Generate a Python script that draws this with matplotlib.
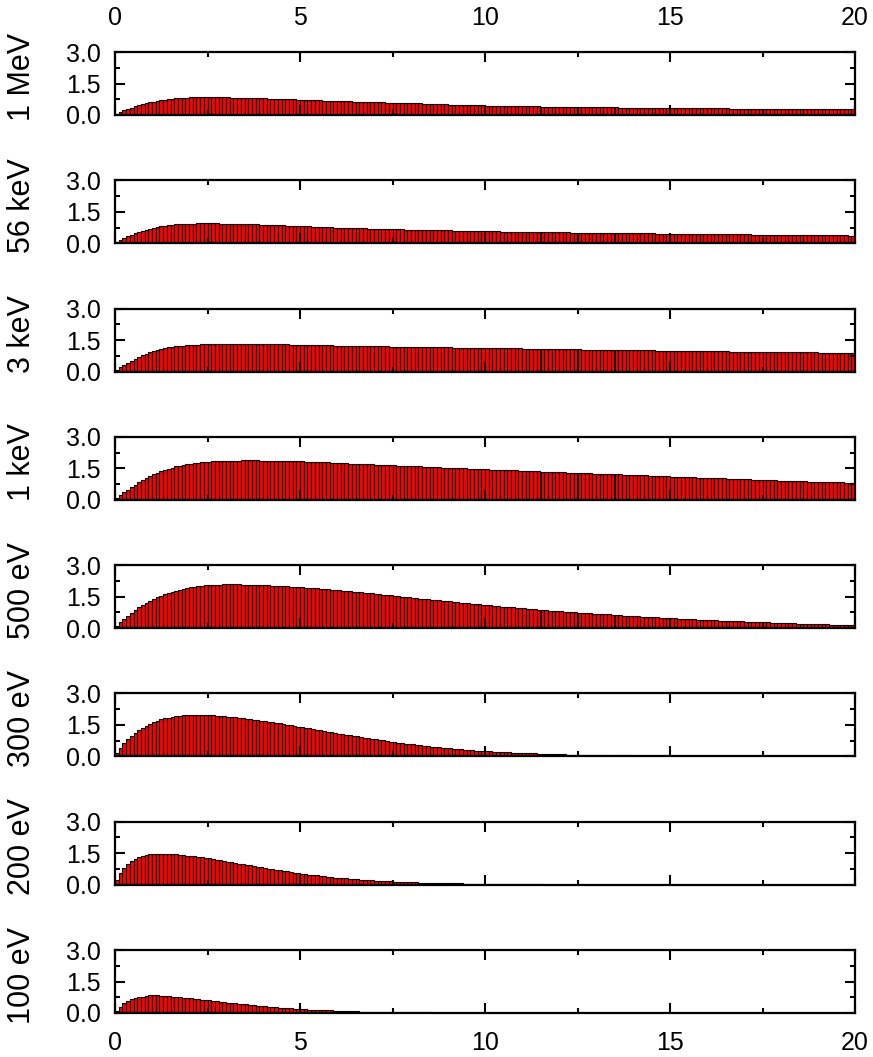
import numpy as np
import matplotlib.pyplot as plt

plt.rcParams['font.family'] = ['Liberation Sans', 'DejaVu Sans']

# Labels of the eight panels (top to bottom)
labels = ['1 MeV', '56 keV', '3 keV', '1 keV', '500 eV', '300 eV', '200 eV', '100 eV']

# Bar heights, one value per 0.1-wide bin from 0 to 20
e_1mev = [
    0.05, 0.14, 0.22, 0.29, 0.35, 0.41, 0.46, 0.51, 0.56, 0.60,
    0.64, 0.67, 0.70, 0.73, 0.75, 0.77, 0.79, 0.80, 0.82, 0.83,
    0.84, 0.84, 0.85, 0.85, 0.85, 0.85, 0.85, 0.85, 0.84, 0.84,
    0.84, 0.83, 0.83, 0.82, 0.82, 0.81, 0.81, 0.80, 0.80, 0.79,
    0.79, 0.78, 0.78, 0.77, 0.76, 0.76, 0.75, 0.75, 0.74, 0.73,
    0.73, 0.72, 0.72, 0.71, 0.70, 0.70, 0.69, 0.69, 0.68, 0.67,
    0.67, 0.66, 0.66, 0.65, 0.64, 0.64, 0.63, 0.63, 0.62, 0.61,
    0.61, 0.60, 0.60, 0.59, 0.59, 0.58, 0.58, 0.57, 0.57, 0.56,
    0.56, 0.55, 0.55, 0.54, 0.53, 0.53, 0.52, 0.52, 0.51, 0.51,
    0.50, 0.50, 0.49, 0.49, 0.48, 0.48, 0.47, 0.47, 0.46, 0.46,
    0.45, 0.45, 0.45, 0.44, 0.44, 0.44, 0.43, 0.43, 0.43, 0.42,
    0.42, 0.42, 0.41, 0.41, 0.41, 0.40, 0.40, 0.40, 0.40, 0.39,
    0.39, 0.39, 0.39, 0.38, 0.38, 0.38, 0.38, 0.37, 0.37, 0.37,
    0.37, 0.36, 0.36, 0.36, 0.36, 0.36, 0.35, 0.35, 0.35, 0.35,
    0.35, 0.34, 0.34, 0.34, 0.34, 0.34, 0.33, 0.33, 0.33, 0.33,
    0.33, 0.33, 0.32, 0.32, 0.32, 0.32, 0.32, 0.32, 0.32, 0.31,
    0.31, 0.31, 0.31, 0.31, 0.31, 0.31, 0.30, 0.30, 0.30, 0.30,
    0.30, 0.30, 0.30, 0.30, 0.30, 0.29, 0.29, 0.29, 0.29, 0.29,
    0.29, 0.29, 0.29, 0.29, 0.28, 0.28, 0.28, 0.28, 0.28, 0.28,
    0.28, 0.28, 0.28, 0.28, 0.28, 0.27, 0.27, 0.27, 0.27, 0.27,
]
e_56kev = [
    0.06, 0.16, 0.25, 0.33, 0.40, 0.47, 0.53, 0.59, 0.64, 0.69,
    0.73, 0.77, 0.80, 0.83, 0.86, 0.88, 0.90, 0.91, 0.92, 0.93,
    0.94, 0.94, 0.95, 0.95, 0.95, 0.95, 0.95, 0.95, 0.94, 0.94,
    0.94, 0.93, 0.93, 0.92, 0.92, 0.91, 0.91, 0.90, 0.90, 0.89,
    0.88, 0.88, 0.87, 0.86, 0.86, 0.85, 0.84, 0.84, 0.83, 0.82,
    0.81, 0.81, 0.80, 0.79, 0.79, 0.78, 0.77, 0.77, 0.76, 0.75,
    0.75, 0.74, 0.74, 0.73, 0.72, 0.72, 0.71, 0.71, 0.70, 0.70,
    0.69, 0.69, 0.68, 0.68, 0.67, 0.67, 0.66, 0.66, 0.65, 0.65,
    0.64, 0.64, 0.64, 0.63, 0.63, 0.62, 0.62, 0.62, 0.61, 0.61,
    0.61, 0.60, 0.60, 0.60, 0.59, 0.59, 0.59, 0.58, 0.58, 0.58,
    0.57, 0.57, 0.57, 0.57, 0.56, 0.56, 0.56, 0.55, 0.55, 0.55,
    0.55, 0.54, 0.54, 0.54, 0.54, 0.53, 0.53, 0.53, 0.53, 0.52,
    0.52, 0.52, 0.52, 0.51, 0.51, 0.51, 0.51, 0.50, 0.50, 0.50,
    0.50, 0.50, 0.49, 0.49, 0.49, 0.49, 0.48, 0.48, 0.48, 0.48,
    0.48, 0.47, 0.47, 0.47, 0.47, 0.47, 0.46, 0.46, 0.46, 0.46,
    0.46, 0.45, 0.45, 0.45, 0.45, 0.45, 0.44, 0.44, 0.44, 0.44,
    0.44, 0.43, 0.43, 0.43, 0.43, 0.43, 0.42, 0.42, 0.42, 0.42,
    0.42, 0.42, 0.41, 0.41, 0.41, 0.41, 0.41, 0.41, 0.40, 0.40,
    0.40, 0.40, 0.40, 0.40, 0.39, 0.39, 0.39, 0.39, 0.39, 0.39,
    0.39, 0.38, 0.38, 0.38, 0.38, 0.38, 0.38, 0.38, 0.37, 0.37,
]
e_3kev = [
    0.08, 0.20, 0.31, 0.41, 0.51, 0.60, 0.69, 0.77, 0.85, 0.92,
    0.98, 1.03, 1.08, 1.12, 1.15, 1.18, 1.20, 1.22, 1.24, 1.25,
    1.26, 1.27, 1.28, 1.29, 1.30, 1.30, 1.31, 1.31, 1.32, 1.32,
    1.32, 1.32, 1.32, 1.32, 1.32, 1.32, 1.32, 1.31, 1.31, 1.31,
    1.31, 1.30, 1.30, 1.30, 1.29, 1.29, 1.29, 1.28, 1.28, 1.28,
    1.27, 1.27, 1.27, 1.26, 1.26, 1.26, 1.25, 1.25, 1.25, 1.24,
    1.24, 1.24, 1.23, 1.23, 1.23, 1.22, 1.22, 1.22, 1.21, 1.21,
    1.21, 1.20, 1.20, 1.20, 1.19, 1.19, 1.19, 1.19, 1.18, 1.18,
    1.18, 1.17, 1.17, 1.17, 1.16, 1.16, 1.16, 1.16, 1.15, 1.15,
    1.15, 1.14, 1.14, 1.14, 1.14, 1.13, 1.13, 1.13, 1.12, 1.12,
    1.12, 1.12, 1.11, 1.11, 1.11, 1.11, 1.10, 1.10, 1.10, 1.10,
    1.09, 1.09, 1.09, 1.09, 1.08, 1.08, 1.08, 1.08, 1.07, 1.07,
    1.07, 1.07, 1.06, 1.06, 1.06, 1.06, 1.05, 1.05, 1.05, 1.05,
    1.04, 1.04, 1.04, 1.04, 1.03, 1.03, 1.03, 1.03, 1.02, 1.02,
    1.02, 1.02, 1.01, 1.01, 1.01, 1.01, 1.00, 1.00, 1.00, 1.00,
    0.99, 0.99, 0.99, 0.99, 0.98, 0.98, 0.98, 0.98, 0.97, 0.97,
    0.97, 0.97, 0.96, 0.96, 0.96, 0.96, 0.95, 0.95, 0.95, 0.95,
    0.95, 0.94, 0.94, 0.94, 0.94, 0.93, 0.93, 0.93, 0.93, 0.93,
    0.92, 0.92, 0.92, 0.92, 0.92, 0.91, 0.91, 0.91, 0.91, 0.91,
    0.90, 0.90, 0.90, 0.90, 0.90, 0.89, 0.89, 0.89, 0.89, 0.89,
]
e_1kev = [
    0.08, 0.22, 0.36, 0.49, 0.61, 0.73, 0.84, 0.94, 1.04, 1.13,
    1.21, 1.29, 1.36, 1.43, 1.49, 1.54, 1.59, 1.63, 1.67, 1.70,
    1.73, 1.75, 1.77, 1.79, 1.81, 1.82, 1.83, 1.84, 1.85, 1.86,
    1.86, 1.87, 1.87, 1.87, 1.88, 1.88, 1.88, 1.88, 1.88, 1.87,
    1.87, 1.87, 1.86, 1.86, 1.86, 1.85, 1.85, 1.84, 1.84, 1.83,
    1.83, 1.82, 1.81, 1.81, 1.80, 1.79, 1.79, 1.78, 1.77, 1.76,
    1.76, 1.75, 1.74, 1.73, 1.73, 1.72, 1.71, 1.70, 1.70, 1.69,
    1.68, 1.67, 1.66, 1.66, 1.65, 1.64, 1.63, 1.63, 1.62, 1.61,
    1.60, 1.60, 1.59, 1.58, 1.57, 1.56, 1.56, 1.55, 1.54, 1.53,
    1.53, 1.52, 1.51, 1.50, 1.50, 1.49, 1.48, 1.47, 1.47, 1.46,
    1.45, 1.44, 1.44, 1.43, 1.42, 1.42, 1.41, 1.40, 1.40, 1.39,
    1.38, 1.38, 1.37, 1.36, 1.36, 1.35, 1.34, 1.34, 1.33, 1.32,
    1.32, 1.31, 1.30, 1.30, 1.29, 1.28, 1.27, 1.27, 1.26, 1.25,
    1.25, 1.24, 1.23, 1.23, 1.22, 1.21, 1.21, 1.20, 1.19, 1.18,
    1.18, 1.17, 1.16, 1.16, 1.15, 1.14, 1.14, 1.13, 1.12, 1.12,
    1.11, 1.10, 1.10, 1.09, 1.08, 1.08, 1.07, 1.06, 1.06, 1.05,
    1.04, 1.04, 1.03, 1.02, 1.02, 1.01, 1.00, 1.00, 0.99, 0.98,
    0.98, 0.97, 0.96, 0.96, 0.95, 0.95, 0.94, 0.93, 0.93, 0.92,
    0.91, 0.91, 0.90, 0.90, 0.89, 0.88, 0.88, 0.87, 0.87, 0.86,
    0.86, 0.85, 0.85, 0.84, 0.84, 0.83, 0.83, 0.82, 0.82, 0.81,
]
e_500ev = [
    0.10, 0.28, 0.44, 0.60, 0.74, 0.87, 0.99, 1.10, 1.21, 1.30,
    1.39, 1.47, 1.55, 1.62, 1.68, 1.74, 1.79, 1.84, 1.88, 1.92,
    1.95, 1.98, 2.00, 2.02, 2.04, 2.05, 2.06, 2.07, 2.07, 2.08,
    2.08, 2.08, 2.08, 2.08, 2.07, 2.07, 2.07, 2.06, 2.06, 2.05,
    2.04, 2.04, 2.03, 2.02, 2.01, 2.00, 1.99, 1.98, 1.97, 1.96,
    1.94, 1.93, 1.92, 1.90, 1.89, 1.88, 1.86, 1.85, 1.83, 1.82,
    1.80, 1.78, 1.77, 1.75, 1.73, 1.72, 1.70, 1.68, 1.66, 1.65,
    1.63, 1.61, 1.59, 1.57, 1.56, 1.54, 1.52, 1.50, 1.48, 1.46,
    1.45, 1.43, 1.41, 1.39, 1.37, 1.36, 1.34, 1.32, 1.30, 1.28,
    1.27, 1.25, 1.23, 1.21, 1.20, 1.18, 1.16, 1.15, 1.13, 1.11,
    1.10, 1.08, 1.06, 1.05, 1.03, 1.02, 1.00, 0.99, 0.97, 0.96,
    0.94, 0.93, 0.91, 0.90, 0.88, 0.87, 0.86, 0.84, 0.83, 0.82,
    0.80, 0.79, 0.78, 0.76, 0.75, 0.74, 0.73, 0.71, 0.70, 0.69,
    0.68, 0.67, 0.66, 0.65, 0.64, 0.63, 0.61, 0.60, 0.59, 0.58,
    0.57, 0.56, 0.55, 0.54, 0.53, 0.52, 0.51, 0.50, 0.49, 0.48,
    0.47, 0.46, 0.45, 0.45, 0.44, 0.43, 0.42, 0.41, 0.40, 0.39,
    0.39, 0.38, 0.37, 0.36, 0.35, 0.35, 0.34, 0.33, 0.32, 0.32,
    0.31, 0.30, 0.30, 0.29, 0.28, 0.28, 0.27, 0.26, 0.26, 0.25,
    0.24, 0.24, 0.23, 0.23, 0.22, 0.21, 0.21, 0.20, 0.20, 0.19,
    0.19, 0.18, 0.18, 0.17, 0.17, 0.16, 0.16, 0.15, 0.15, 0.14,
]
e_300ev = [
    0.15, 0.40, 0.62, 0.81, 0.98, 1.12, 1.25, 1.36, 1.46, 1.55,
    1.63, 1.70, 1.76, 1.81, 1.85, 1.88, 1.91, 1.93, 1.95, 1.96,
    1.97, 1.97, 1.97, 1.97, 1.97, 1.96, 1.95, 1.94, 1.93, 1.92,
    1.90, 1.88, 1.86, 1.84, 1.82, 1.80, 1.78, 1.75, 1.73, 1.70,
    1.68, 1.65, 1.62, 1.59, 1.57, 1.54, 1.51, 1.48, 1.45, 1.42,
    1.39, 1.36, 1.33, 1.30, 1.27, 1.24, 1.21, 1.18, 1.15, 1.12,
    1.09, 1.06, 1.03, 1.00, 0.98, 0.95, 0.92, 0.89, 0.86, 0.84,
    0.81, 0.78, 0.76, 0.73, 0.71, 0.68, 0.66, 0.63, 0.61, 0.59,
    0.57, 0.55, 0.53, 0.51, 0.49, 0.47, 0.45, 0.43, 0.41, 0.40,
    0.38, 0.37, 0.35, 0.34, 0.32, 0.31, 0.30, 0.28, 0.27, 0.26,
    0.25, 0.24, 0.23, 0.22, 0.21, 0.20, 0.19, 0.18, 0.17, 0.17,
    0.16, 0.15, 0.15, 0.14, 0.13, 0.13, 0.12, 0.12, 0.11, 0.11,
    0.10, 0.10, 0.09, 0.09, 0.09, 0.08, 0.08, 0.08, 0.07, 0.07,
    0.07, 0.06, 0.06, 0.06, 0.06, 0.05, 0.05, 0.05, 0.05, 0.05,
    0.04, 0.04, 0.04, 0.04, 0.04, 0.04, 0.03, 0.03, 0.03, 0.03,
    0.03, 0.03, 0.03, 0.03, 0.02, 0.02, 0.02, 0.02, 0.02, 0.02,
    0.02, 0.02, 0.02, 0.02, 0.02, 0.01, 0.01, 0.01, 0.01, 0.01,
    0.01, 0.01, 0.01, 0.01, 0.01, 0.01, 0.01, 0.01, 0.01, 0.01,
    0.01, 0.01, 0.01, 0.01, 0.01, 0.01, 0.01, 0.01, 0.01, 0.00,
    0.00, 0.00, 0.00, 0.00, 0.00, 0.00, 0.00, 0.00, 0.00, 0.00,
]
e_200ev = [
    0.22, 0.55, 0.80, 0.99, 1.13, 1.24, 1.32, 1.38, 1.42, 1.45,
    1.47, 1.48, 1.48, 1.48, 1.47, 1.46, 1.45, 1.43, 1.41, 1.39,
    1.37, 1.35, 1.32, 1.30, 1.27, 1.25, 1.22, 1.19, 1.16, 1.13,
    1.10, 1.07, 1.04, 1.01, 0.98, 0.95, 0.92, 0.89, 0.86, 0.83,
    0.80, 0.77, 0.74, 0.71, 0.68, 0.65, 0.63, 0.60, 0.57, 0.55,
    0.52, 0.50, 0.48, 0.46, 0.44, 0.42, 0.40, 0.38, 0.36, 0.34,
    0.33, 0.31, 0.30, 0.28, 0.27, 0.25, 0.24, 0.23, 0.22, 0.21,
    0.20, 0.19, 0.18, 0.17, 0.16, 0.15, 0.14, 0.14, 0.13, 0.12,
    0.12, 0.11, 0.10, 0.10, 0.09, 0.09, 0.08, 0.08, 0.08, 0.07,
    0.07, 0.06, 0.06, 0.06, 0.05, 0.05, 0.05, 0.05, 0.04, 0.04,
    0.04, 0.04, 0.03, 0.03, 0.03, 0.03, 0.03, 0.03, 0.02, 0.02,
    0.02, 0.02, 0.02, 0.02, 0.02, 0.02, 0.01, 0.01, 0.01, 0.01,
    0.01, 0.01, 0.01, 0.01, 0.01, 0.01, 0.01, 0.01, 0.01, 0.01,
    0.01, 0.01, 0.01, 0.01, 0.01, 0.00, 0.00, 0.00, 0.00, 0.00,
] + [0.0] * 60
e_100ev = [
    0.10, 0.30, 0.46, 0.58, 0.66, 0.72, 0.76, 0.77, 0.80, 0.86,
    0.87, 0.86, 0.79, 0.82, 0.81, 0.76, 0.77, 0.75, 0.71, 0.72,
    0.70, 0.66, 0.67, 0.63, 0.61, 0.60, 0.57, 0.55, 0.53, 0.52,
    0.49, 0.47, 0.46, 0.44, 0.42, 0.41, 0.38, 0.37, 0.35, 0.34,
    0.32, 0.30, 0.29, 0.27, 0.26, 0.24, 0.23, 0.22, 0.20, 0.19,
    0.18, 0.17, 0.16, 0.16, 0.15, 0.14, 0.13, 0.12, 0.12, 0.11,
    0.10, 0.10, 0.09, 0.09, 0.08, 0.08, 0.07, 0.07, 0.07, 0.06,
    0.06, 0.06, 0.05, 0.05, 0.05, 0.04, 0.04, 0.04, 0.04, 0.03,
    0.03, 0.03, 0.03, 0.03, 0.03, 0.02, 0.02, 0.02, 0.02, 0.02,
    0.02, 0.02, 0.02, 0.01, 0.01, 0.01, 0.01, 0.01, 0.01, 0.01,
    0.01, 0.01, 0.01, 0.01, 0.01, 0.01, 0.01, 0.01, 0.01, 0.01,
    0.01, 0.01, 0.01, 0.01, 0.01, 0.00, 0.00, 0.00, 0.00, 0.00,
] + [0.0] * 80

series = [e_1mev, e_56kev, e_3kev, e_1kev, e_500ev, e_300ev, e_200ev, e_100ev]
bin_width = 0.1
left_edges = np.arange(200) * bin_width

W, H = 873, 1057
fig = plt.figure(figsize=(W / 100, H / 100), dpi=100)

left_px, right_px = 115, 855
top0, height_px = 52, 63
step = (1013 - height_px - top0) / 7.0

for i, (lab, vals) in enumerate(zip(labels, series)):
    top = top0 + i * step
    rect = [left_px / W, 1 - (top + height_px) / H,
            (right_px - left_px) / W, height_px / H]
    ax = fig.add_axes(rect)
    ax.bar(left_edges, vals, width=bin_width, align='edge',
           color='#ff0000', edgecolor='black', linewidth=0.8)
    ax.set_xlim(0, 20)
    ax.set_ylim(0, 3.0)
    ax.set_xticks([0, 5, 10, 15, 20])
    ax.set_xticks([2.5, 7.5, 12.5, 17.5], minor=True)
    ax.set_yticks([0.0, 1.5, 3.0])
    ax.set_yticklabels(['0.0', '1.5', '3.0'])
    ax.set_yticks([0.75, 2.25], minor=True)
    ax.tick_params(which='both', direction='in', top=True, right=True,
                   width=1.5, labelsize=18)
    ax.tick_params(which='major', length=7)
    ax.tick_params(which='minor', length=3.5)
    ax.tick_params(axis='y', pad=10)
    for s in ax.spines.values():
        s.set_linewidth(1.6)
    if i == 0:
        ax.tick_params(axis='x', labeltop=True, labelbottom=False, pad=16)
    elif i == len(labels) - 1:
        ax.tick_params(axis='x', labeltop=False, labelbottom=True, pad=13)
    else:
        ax.tick_params(axis='x', labeltop=False, labelbottom=False)
    ax.set_ylabel(lab, fontsize=22)
    ax.yaxis.set_label_coords(-0.106, 0.6)

fig.savefig('out.png', dpi=100)
